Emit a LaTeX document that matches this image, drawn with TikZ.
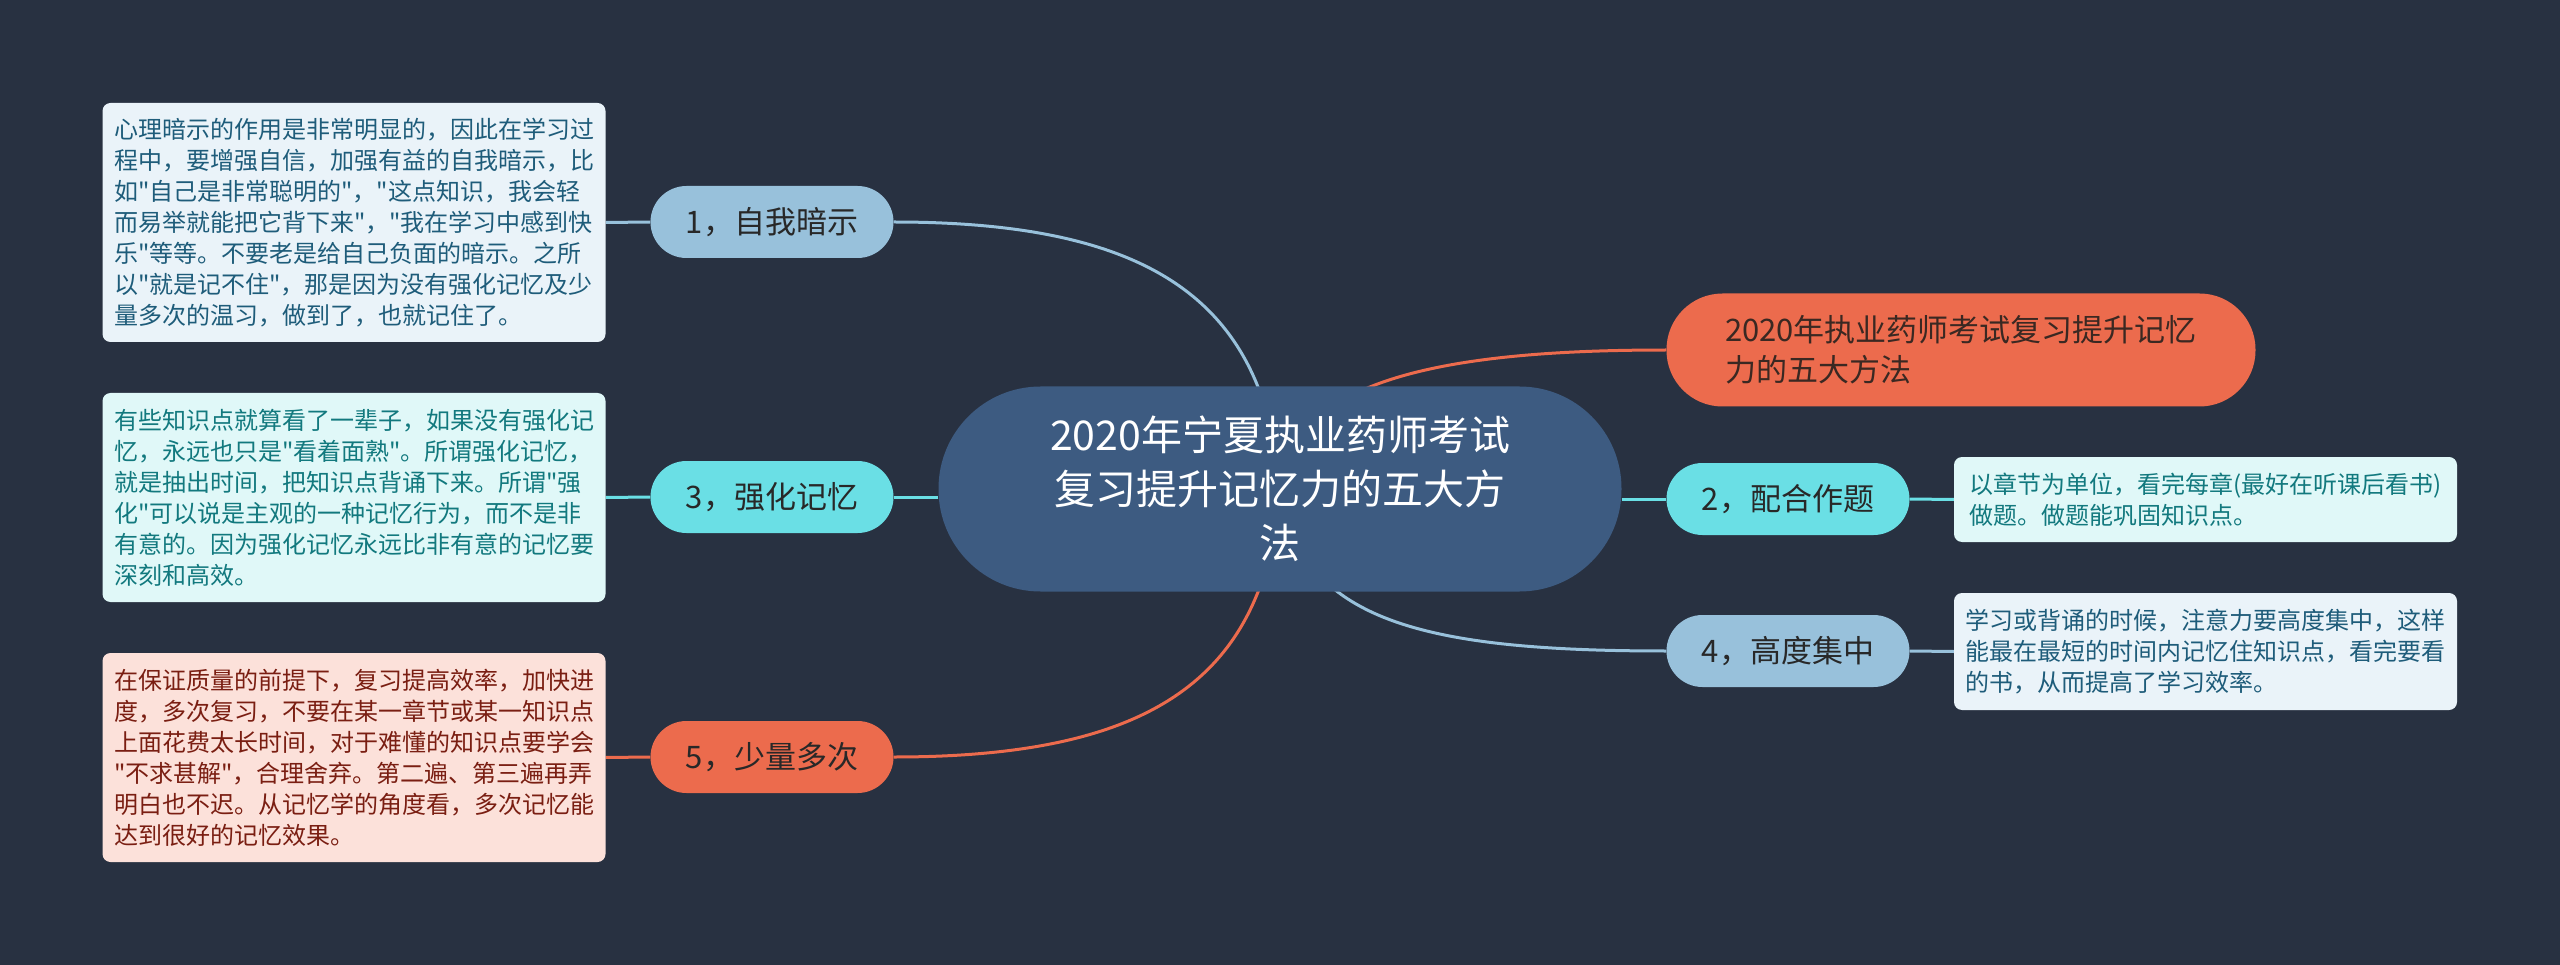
\documentclass[tikz,border=0pt]{standalone}
\usepackage{fontspec}
\setmainfont{Noto Sans CJK SC}[Ligatures=TeXOff]
\definecolor{bgc}{RGB}{40,49,65}
\definecolor{centralc}{RGB}{61,91,129}
\definecolor{lblue}{RGB}{152,193,219}
\definecolor{cyanl}{RGB}{106,223,229}
\definecolor{orangel}{RGB}{236,107,77}
\definecolor{topictext}{RGB}{40,40,40}
\definecolor{titletext}{RGB}{58,40,34}
\definecolor{noteblue}{RGB}{234,243,249}
\definecolor{noteblueT}{RGB}{30,92,122}
\definecolor{notecyan}{RGB}{224,248,248}
\definecolor{notecyanT}{RGB}{18,121,126}
\definecolor{noteor}{RGB}{252,225,218}
\definecolor{noteorT}{RGB}{122,30,18}
\pgfdeclarelayer{bg}
\pgfsetlayers{bg,main}
\begin{document}
\begin{tikzpicture}[x=1pt,y=-1pt,
  topic/.style={rectangle, rounded corners=36pt, minimum width=243pt, minimum height=72pt, inner sep=0pt, font=\fontsize{31}{36}\selectfont, text=topictext},
  note/.style={rectangle, rounded corners=8pt, minimum width=503pt, inner sep=0pt, align=left, font=\fontsize{24}{31}\selectfont},
  link/.style={line width=3pt}]
\useasboundingbox (0,0) rectangle (2560,965);

% central
\node[rectangle, rounded corners=102pt, fill=centralc, minimum width=683pt, minimum height=205pt, inner sep=0pt, align=center, text=white, font=\fontsize{41}{54}\selectfont] (c) at (1280,489) {2020年宁夏执业药师考试\\复习提升记忆力的五大方\\法};

% topics
\node[topic, fill=lblue] (n1) at (772,222) {1，自我暗示};
\node[topic, fill=cyanl] (n3) at (772,497) {3，强化记忆};
\node[topic, fill=orangel] (n5) at (772,757) {5，少量多次};
\node[topic, fill=cyanl] (n2) at (1788,499) {2，配合作题};
\node[topic, fill=lblue] (n4) at (1788,651) {4，高度集中};
\node[rectangle, rounded corners=56pt, fill=orangel, minimum width=589pt, minimum height=113pt, inner sep=0pt, align=left, text=titletext, font=\fontsize{31}{40}\selectfont] (t) at (1961,350) {2020年执业药师考试复习提升记忆\\力的五大方法};

% notes
\node[note, fill=noteblue, text=noteblueT, minimum height=239pt] (b1) at (354,222.5) {心理暗示的作用是非常明显的，因此在学习过\\程中，要增强自信，加强有益的自我暗示，比\\如"自己是非常聪明的"，"这点知识，我会轻\\而易举就能把它背下来"，"我在学习中感到快\\乐"等等。不要老是给自己负面的暗示。之所\\以"就是记不住"，那是因为没有强化记忆及少\\量多次的温习，做到了，也就记住了。};
\node[note, fill=notecyan, text=notecyanT, minimum height=209pt] (b3) at (354,497.5) {有些知识点就算看了一辈子，如果没有强化记\\忆，永远也只是"看着面熟"。所谓强化记忆，\\就是抽出时间，把知识点背诵下来。所谓"强\\化"可以说是主观的一种记忆行为，而不是非\\有意的。因为强化记忆永远比非有意的记忆要\\深刻和高效。};
\node[note, fill=noteor, text=noteorT, minimum height=209pt] (b5) at (354,757.5) {在保证质量的前提下，复习提高效率，加快进\\度，多次复习，不要在某一章节或某一知识点\\上面花费太长时间，对于难懂的知识点要学会\\"不求甚解"，合理舍弃。第二遍、第三遍再弄\\明白也不迟。从记忆学的角度看，多次记忆能\\达到很好的记忆效果。};
\node[note, fill=notecyan, text=notecyanT, minimum height=85pt] (b2) at (2205.5,499.5) {以章节为单位，看完每章(最好在听课后看书)\\做题。做题能巩固知识点。};
\node[note, fill=noteblue, text=noteblueT, minimum height=117pt] (b4) at (2205.5,651.5) {学习或背诵的时候，注意力要高度集中，这样\\能最在最短的时间内记忆住知识点，看完要看\\的书，从而提高了学习效率。};

\begin{pgfonlayer}{bg}
\fill[bgc] (0,0) rectangle (2560,965);
\draw[link,lblue] (c.center) .. controls (1265,300) and (1150,222) .. (n1.east);
\draw[link,lblue] (n1.west) -- (b1.east);
\draw[link,cyanl] (c.west |- n3.east) -- (n3.east);
\draw[link,cyanl] (n3.west) -- (b3.east);
\draw[link,orangel] (c.center) .. controls (1265,680) and (1150,757) .. (n5.east);
\draw[link,orangel] (n5.west) -- (b5.east);
\draw[link,orangel] (c.center) .. controls (1290,375) and (1460,350) .. (t.west);
\draw[link,cyanl] (c.east |- n2.west) -- (n2.west);
\draw[link,cyanl] (n2.east) -- (b2.west);
\draw[link,lblue] (c.center) .. controls (1300,620) and (1420,651) .. (n4.west);
\draw[link,lblue] (n4.east) -- (b4.west);
\end{pgfonlayer}
\end{tikzpicture}
\end{document}
